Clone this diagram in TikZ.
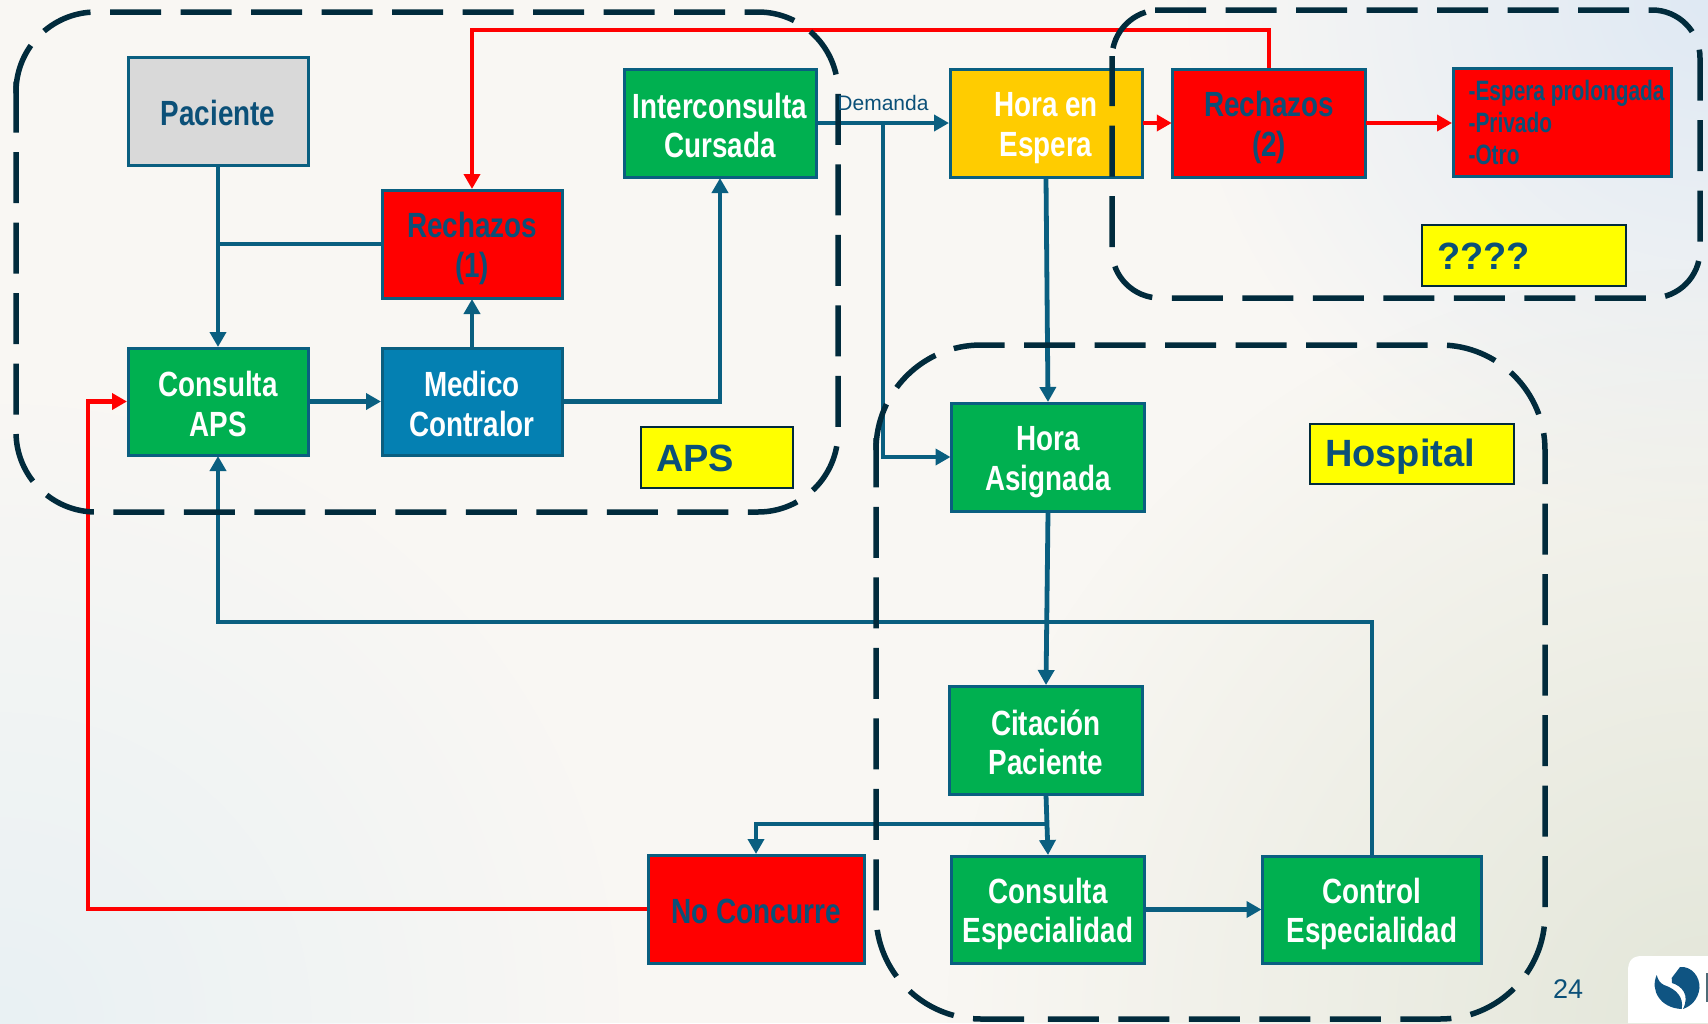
\documentclass[tikz,border=0pt]{standalone}
\usepackage{fontspec}
\setmainfont{Liberation Sans}
\newfontfamily\condb{Liberation Sans}[FakeStretch=0.795]
\newfontfamily\condw{Liberation Sans}[FakeStretch=0.80]
\newfontfamily\condn{Liberation Sans}[FakeStretch=0.745]
\usetikzlibrary{arrows.meta,fadings,positioning}
\definecolor{bgbase}{HTML}{F9F7F3}
\definecolor{cgreen}{HTML}{00B050}
\definecolor{cred}{HTML}{FF0000}
\definecolor{cyellow}{HTML}{FFFF00}
\definecolor{corange}{HTML}{FFCC00}
\definecolor{cblue}{HTML}{0480B2}
\definecolor{cgrey}{HTML}{D9D9D9}
\definecolor{cedge}{HTML}{0A5F80}
\definecolor{ctext}{HTML}{0B5078}
\definecolor{cdash}{HTML}{012B3C}
\definecolor{bgtr}{HTML}{DFE9F4}
\definecolor{bgbr}{HTML}{E3E6D9}
\definecolor{bgbl}{HTML}{E9F1F4}
\definecolor{logoblue}{HTML}{0F5482}
\tikzfading[name=cornerfade,inner color=transparent!0,outer color=transparent!100]
\newcommand{\bs}{\rule[-5pt]{0pt}{39.5pt}}
\newcommand{\ts}{\rule[-4pt]{0pt}{36pt}}
\tikzset{
  x=1pt,y=-1pt,
  bsize/.style 2 args={minimum width=#1pt-2pt,minimum height=#2pt-2pt},
  boxbase/.style={draw=cedge,line width=3pt,outer sep=1pt,inner sep=0pt,align=center,
    font=\condb\bfseries\fontsize{35}{39.5}\selectfont},
  gbox/.style={boxbase,fill=cgreen,text=white},
  rbox/.style={boxbase,fill=cred,text=ctext},
  tag/.style={draw=cdash,line width=2.5pt,fill=cyellow,text=ctext,outer sep=1pt,inner sep=0pt,
    font=\bfseries\fontsize{38}{40}\selectfont},
  flow/.style={draw=cedge,line width=4.8pt,-{Triangle[length=15pt,width=16pt]}},
  flowplain/.style={draw=cedge,line width=4.8pt},
  redflow/.style={draw=cred,line width=4.5pt,-{Triangle[length=15pt,width=16pt]}},
  zone/.style={draw=cdash,line width=5.5pt,dash pattern=on 51pt off 19.5pt},
  zonegap/.style={draw=cdash,line width=5.5pt,dash pattern=on 51pt off 19.5pt,dash phase=51pt},
}
\begin{document}
\begin{tikzpicture}
\useasboundingbox (0,0) rectangle (1708,1023);
% background
\begin{scope}
\clip (0,0) rectangle (1708,1023);
\fill[bgbase] (0,0) rectangle (1708,1023);
\fill[bgtr,path fading=cornerfade] (1708,0) circle (520pt);
\fill[bgbr,path fading=cornerfade] (1708,1023) circle (760pt);
\fill[bgbl,path fading=cornerfade] (0,1023) circle (620pt);
\end{scope}
% boxes
\node[boxbase,fill=cgrey,text=ctext,bsize={182}{110}] (pac) at (218,111) {\bs Paciente};
\node[rbox,bsize={182}{110}] (rec1) at (472,244) {\bs Rechazos\\\bs (1)};
\node[gbox,bsize={194}{110}] (inter) at (720,123) {\bs Interconsulta\\\bs Cursada};
\node[gbox,bsize={182}{109}] (capsn) at (218,401.5) {\bs Consulta\\\bs APS};
\node[boxbase,fill=cblue,text=white,bsize={182}{109}] (med) at (472,401.5) {\bs Medico\\\bs Contralor};
\node[boxbase,fill=corange,text=white,bsize={194}{110}] (hesp) at (1046,123) {\bs Hora en\\\bs Espera};
\node[rbox,bsize={194.5}{110}] (rec2) at (1269,123) {\bs Rechazos\\\bs (2)};
\node[rbox,bsize={220}{110},align=left,font=\condn\bfseries\fontsize{28}{32}\selectfont] (lst) at (1562,122)
  {\hspace*{9pt}-Espera prolongada\\\hspace*{9pt}-Privado\\\hspace*{9pt}-Otro};
\node[gbox,bsize={195}{110}] (hasig) at (1048,457) {\bs Hora\\\bs Asignada};
\node[gbox,bsize={195}{110}] (cit) at (1046,740) {\bs Citación\\\bs Paciente};
\node[gbox,bsize={195}{109}] (cesp) at (1048,909.5) {\bs Consulta\\\bs Especialidad};
\node[gbox,bsize={221}{109}] (ctrl) at (1372,909.5) {\bs Control\\\bs Especialidad};
\node[rbox,bsize={218}{110},font=\condw\bfseries\fontsize{35}{39.5}\selectfont] (noc) at (756,909) {\bs No Concurre};
% tags
\node[tag,bsize={154}{63},text width=122pt,align=left] (taps) at (717,457.5) {\ts APS};
\node[tag,bsize={206}{62},text width=174pt,align=left] (thos) at (1412,454) {\ts Hospital};
\node[tag,bsize={206}{63},text width=174pt,align=left] (tqq) at (1524,255.5) {\ts ????};
% connectors
\coordinate (jrec) at (218,244);
\coordinate (jdem) at (883,123);
\coordinate (jcit) at (1046,824);
\coordinate (jctl) at (218,622);
\coordinate (jred) at (472,30);
\coordinate (jnoc) at (88,909);
\draw[flow] (pac.south) -- (capsn.north);
\draw[flowplain] (rec1.west) -- (jrec);
\draw[flow] (med.north) -- (rec1.south);
\draw[flow] (capsn.east) -- (med.west);
\draw[flow] (med.east) -| (inter.south);
\draw[flow] (inter.east) -- (hesp.west);
\draw[flow] (jdem) |- (hasig.west);
\draw[flow] (hesp.south) -- (hasig.north);
\draw[flow] (hasig.south) -- (cit.north);
\draw[flow] (cit.south) -- (cesp.north);
\draw[flow] (jcit) -| (noc.north);
\draw[flow] (cesp.east) -- (ctrl.west);
\draw[flow,line width=4pt] (ctrl.north) |- (jctl) -- (capsn.south);
\draw[redflow] (rec2.north) |- (jred) -- (rec1.north);
\draw[redflow] (noc.west) -- (jnoc) |- (capsn.west);
\draw[redflow] (hesp.east) -- (rec2.west);
\draw[redflow] (rec2.east) -- (lst.west |- rec2.east);
% zones: each outline closes with one long dash, so it is drawn in two runs
\draw[zone,rounded corners=80pt] (110,12) -- (838,12) -- (838,512) -- (16,512) -- (16,81);
\draw[zonegap,rounded corners=80pt] (110,12) -- (16,12) -- (16,100);
\draw[zone,rounded corners=48pt] (1155,10) -- (1700,10) -- (1700,298) -- (1112,298) -- (1112,56);
\draw[zonegap,rounded corners=48pt] (1155,10) -- (1112,10) -- (1112,58);
\draw[zone,rounded corners=105pt] (1024,345) -- (1545,345) -- (1545,1019) -- (1047,1019);
\draw[zone,rounded corners=105pt] (1024,1019) -- (876,1019) -- (876,438);
\draw[zonegap,rounded corners=105pt] (1024,345) -- (876,345) -- (876,438);
% small texts
\node[text=ctext,font=\fontsize{21}{24}\selectfont,inner sep=0pt] (dem) at (883,103) {Demanda};
\node[text=ctext,font=\fontsize{27}{30}\selectfont,inner sep=0pt] (pg) at (1568,989) {24};
% logo
\fill[white] (1708,956) -- (1642,956) .. controls (1632,956) and (1628,961) .. (1628,971) -- (1628,1023) -- (1708,1023) -- cycle;
\fill[logoblue] (1656.7,975) .. controls (1650,990) and (1660,1008) .. (1681.7,1009) .. controls (1684,997) and (1676,989) .. (1664,985) .. controls (1660,983) and (1658,980) .. (1656.7,975) -- cycle;
\fill[logoblue] (1671.7,978) -- (1680,967) .. controls (1692,966) and (1700,977) .. (1699.5,988) .. controls (1698,1000) and (1691,1006) .. (1683,1009) .. controls (1690,995) and (1682,986) .. (1672,983) -- cycle;
\fill[cdash!70] (1706,973) rectangle (1708,1002);
\end{tikzpicture}
\end{document}
